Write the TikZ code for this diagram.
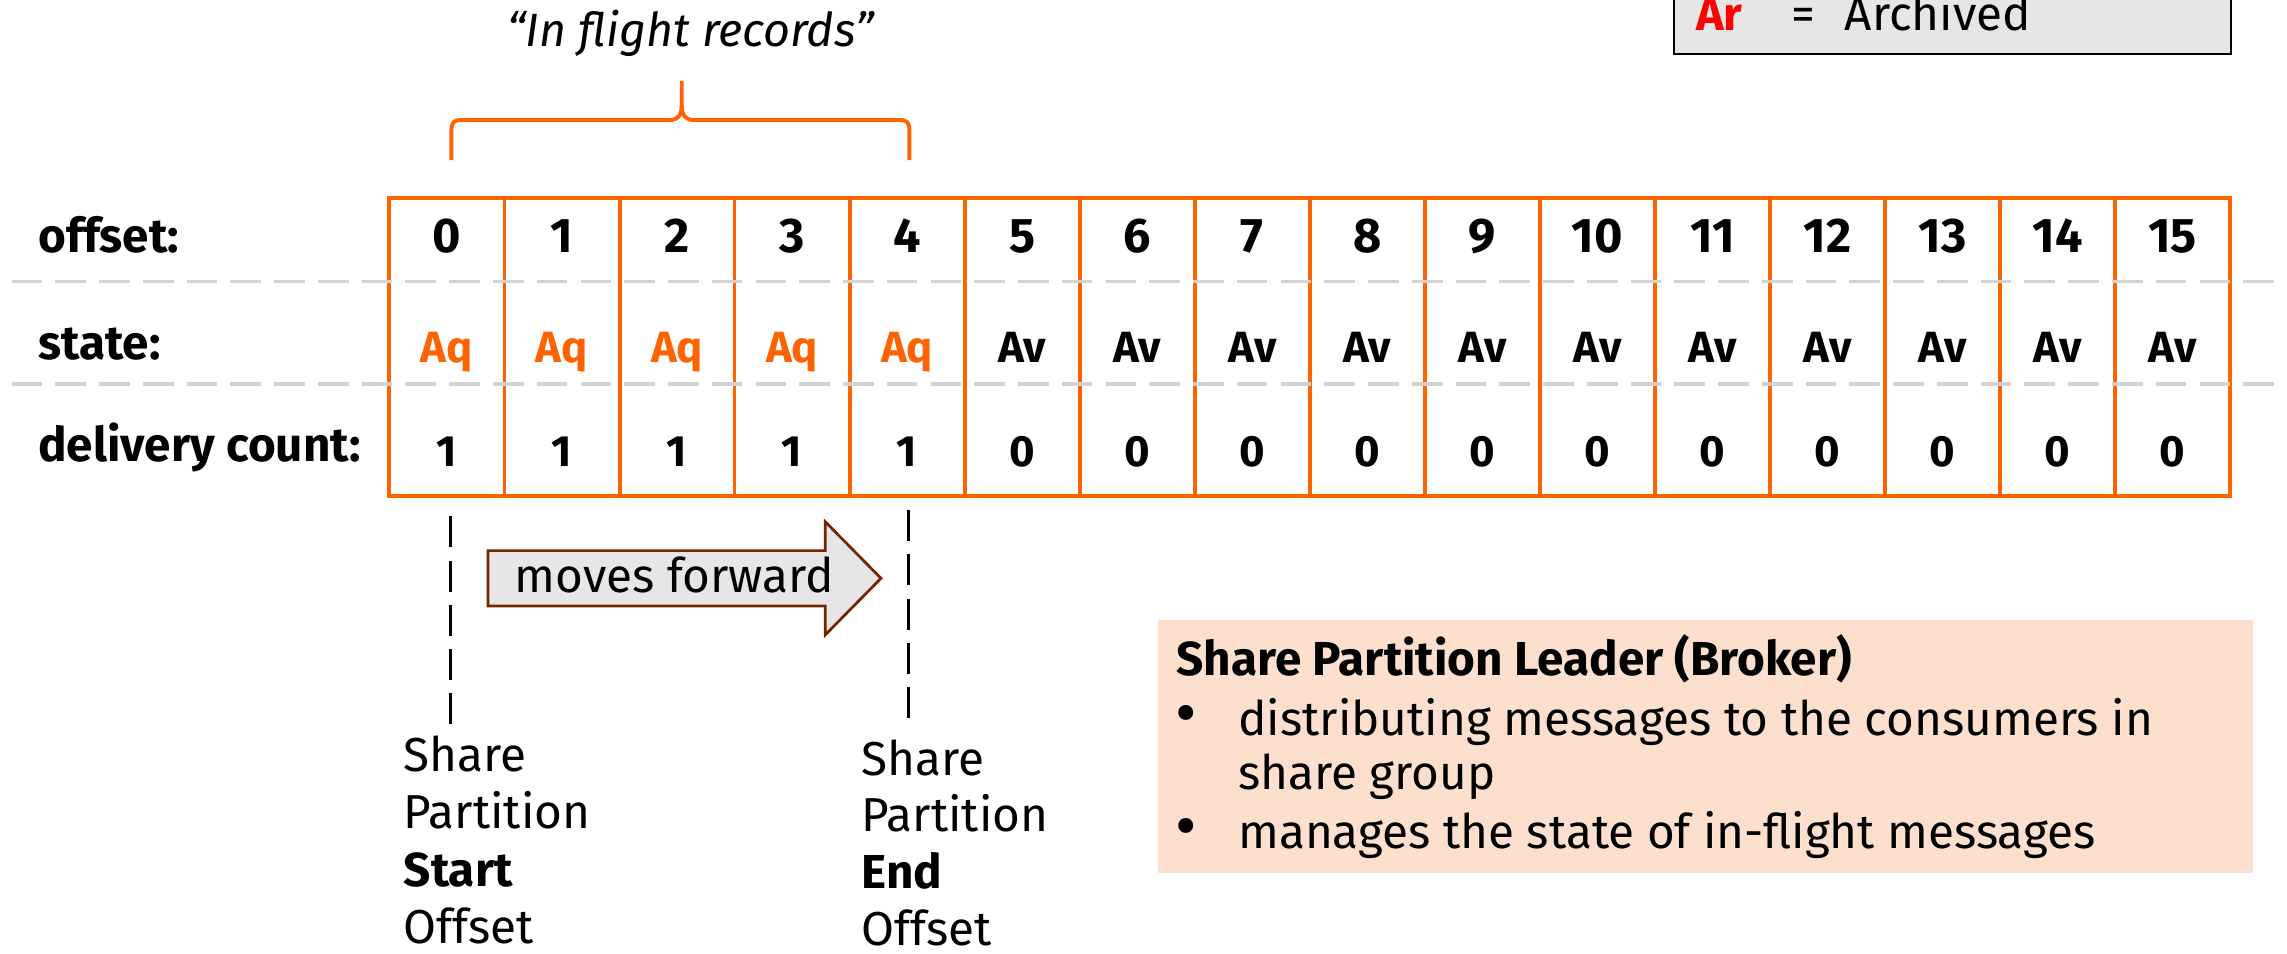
\documentclass[tikz,border=0pt]{standalone}
\usepackage{fontspec}
\setmainfont{Fira Sans}
\definecolor{ingorange}{RGB}{255,98,0}
\definecolor{dashgray}{RGB}{211,211,211}
\definecolor{legendgray}{RGB}{230,230,230}
\definecolor{arrowbrown}{RGB}{115,38,0}
\definecolor{leaderpeach}{RGB}{252,223,205}
\definecolor{archivedred}{RGB}{255,0,0}

\begin{document}
\begin{tikzpicture}[x=0.75pt,y=0.75pt,yscale=-1,xscale=1,
  cellnum/.style={anchor=base,inner sep=0.75pt,font=\bfseries\fontsize{25}{28}\selectfont},
  cellval/.style={anchor=base,inner sep=0.75pt,font=\bfseries\fontsize{22.5}{28}\selectfont},
  rowlabel/.style={anchor=base west,inner sep=0.75pt,font=\bfseries\fontsize{24.5}{28}\selectfont},
  bodytext/.style={anchor=base west,inner sep=0.75pt,font=\fontsize{24.5}{28}\selectfont},
  bulletmark/.style={anchor=base west,inner sep=0.75pt,font=\fontsize{34}{28}\selectfont},
  gridline/.style={draw=ingorange,line width=2pt},
  rowdash/.style={draw=dashgray,line width=2pt,dash pattern=on 15.75pt off 6.75pt},
  markdash/.style={draw=black,line width=1.6pt,dash pattern=on 16pt off 6.75pt}]
\useasboundingbox (0,0) rectangle (1568,654);

%Shape: Rectangle (legend)
\draw [fill=legendgray,line width=1pt] (1148,-40) rectangle (1529.5,37) ;
% Text Node
\draw (1161.7,21) node (legAr) [anchor=base west][inner sep=0.75pt] {\textcolor{archivedred}{\bfseries\fontsize{24}{28}\selectfont Ar}};
% Text Node
\draw (1227,21) node (legEq) [bodytext] {=};
% Text Node
\draw (1263.6,21) node (legArchived) [bodytext] {Archived};

%Shape: Brace
\draw [draw=ingorange,line width=2pt] (309.5,109.7) -- (309.5,90) .. controls (309.5,84) and (311,82.3) .. (316,82.3) -- (459,82.3) .. controls (465,82.3) and (467.4,79) .. (467.4,72) -- (467.4,55.5) ;
\draw [draw=ingorange,line width=2pt] (623.5,109.7) -- (623.5,90) .. controls (623.5,84) and (622,82.3) .. (617,82.3) -- (475.8,82.3) .. controls (469.8,82.3) and (467.4,79) .. (467.4,72) ;
% Text Node
\draw (473.4,32) node (inflight) [anchor=base][inner sep=0.75pt] {\fontsize{24}{28}\selectfont\itshape “In flight records”};

%Shape: Rectangle (log)
\draw [gridline] (267,135.5) rectangle (1529.2,340) ;
%Straight Lines
\draw [gridline] (345.9,135.5) -- (345.9,340) (424.8,135.5) -- (424.8,340) (503.6,135.5) -- (503.6,340) (582.5,135.5) -- (582.5,340) (661.4,135.5) -- (661.4,340) (740.3,135.5) -- (740.3,340) (819.1,135.5) -- (819.1,340) (898,135.5) -- (898,340) ;
\draw [gridline] (976.9,135.5) -- (976.9,340) (1055.8,135.5) -- (1055.8,340) (1134.6,135.5) -- (1134.6,340) (1213.5,135.5) -- (1213.5,340) (1292.4,135.5) -- (1292.4,340) (1371.3,135.5) -- (1371.3,340) (1450.1,135.5) -- (1450.1,340) ;
%Straight Lines
\draw [rowdash] (8,193) -- (1568,193) ;
\draw [rowdash] (8,263.5) -- (1568,263.5) ;

% Text Node
\draw (25,173) node (lblOffset) [rowlabel] {offset:};
\draw (25,246.5) node (lblState) [rowlabel] {state:};
\draw (25,316.5) node (lblCount) [rowlabel] {delivery count:};

% Text Node (offsets)
\draw (306.4,173) node (off0) [cellnum] {0};
\draw (385.3,173) node (off1) [cellnum] {1};
\draw (464.2,173) node (off2) [cellnum] {2};
\draw (543.1,173) node (off3) [cellnum] {3};
\draw (621.9,173) node (off4) [cellnum] {4};
\draw (700.8,173) node (off5) [cellnum] {5};
\draw (779.7,173) node (off6) [cellnum] {6};
\draw (858.6,173) node (off7) [cellnum] {7};
\draw (937.4,173) node (off8) [cellnum] {8};
\draw (1016.3,173) node (off9) [cellnum] {9};
\draw (1095.2,173) node (off10) [cellnum] {10};
\draw (1174.1,173) node (off11) [cellnum] {11};
\draw (1252.9,173) node (off12) [cellnum] {12};
\draw (1331.8,173) node (off13) [cellnum] {13};
\draw (1410.7,173) node (off14) [cellnum] {14};
\draw (1489.6,173) node (off15) [cellnum] {15};

% Text Node (states)
\draw (306.4,248.7) node (st0) [cellval] {\textcolor{ingorange}{Aq}};
\draw (385.3,248.7) node (st1) [cellval] {\textcolor{ingorange}{Aq}};
\draw (464.2,248.7) node (st2) [cellval] {\textcolor{ingorange}{Aq}};
\draw (543.1,248.7) node (st3) [cellval] {\textcolor{ingorange}{Aq}};
\draw (621.9,248.7) node (st4) [cellval] {\textcolor{ingorange}{Aq}};
\draw (700.8,248.7) node (st5) [cellval] {Av};
\draw (779.7,248.7) node (st6) [cellval] {Av};
\draw (858.6,248.7) node (st7) [cellval] {Av};
\draw (937.4,248.7) node (st8) [cellval] {Av};
\draw (1016.3,248.7) node (st9) [cellval] {Av};
\draw (1095.2,248.7) node (st10) [cellval] {Av};
\draw (1174.1,248.7) node (st11) [cellval] {Av};
\draw (1252.9,248.7) node (st12) [cellval] {Av};
\draw (1331.8,248.7) node (st13) [cellval] {Av};
\draw (1410.7,248.7) node (st14) [cellval] {Av};
\draw (1489.6,248.7) node (st15) [cellval] {Av};

% Text Node (delivery counts)
\draw (306.4,319.5) node (dc0) [cellval] {1};
\draw (385.3,319.5) node (dc1) [cellval] {1};
\draw (464.2,319.5) node (dc2) [cellval] {1};
\draw (543.1,319.5) node (dc3) [cellval] {1};
\draw (621.9,319.5) node (dc4) [cellval] {1};
\draw (700.8,319.5) node (dc5) [cellval] {0};
\draw (779.7,319.5) node (dc6) [cellval] {0};
\draw (858.6,319.5) node (dc7) [cellval] {0};
\draw (937.4,319.5) node (dc8) [cellval] {0};
\draw (1016.3,319.5) node (dc9) [cellval] {0};
\draw (1095.2,319.5) node (dc10) [cellval] {0};
\draw (1174.1,319.5) node (dc11) [cellval] {0};
\draw (1252.9,319.5) node (dc12) [cellval] {0};
\draw (1331.8,319.5) node (dc13) [cellval] {0};
\draw (1410.7,319.5) node (dc14) [cellval] {0};
\draw (1489.6,319.5) node (dc15) [cellval] {0};

%Straight Lines (start / end markers)
\coordinate (startTop) at (308.9,354) ;
\coordinate (startBot) at (308.9,497) ;
\coordinate (endTop) at (623,349.7) ;
\coordinate (endBot) at (623,492) ;
\draw [markdash] (startTop) -- (startBot) ;
\draw [markdash] (endTop) -- (endBot) ;

%Shape: Right Arrow
\draw [fill=legendgray,draw=arrowbrown,line width=1.4pt] (334.6,377.5) -- (565.8,377.5) -- (565.8,357.7) -- (604,396.5) -- (565.8,435.3) -- (565.8,415.5) -- (334.6,415.5) -- cycle ;
% Text Node
\draw (351.5,406.3) node (moves) [bodytext] {moves forward};

% Text Node (start offset)
\draw (275.6,529) node (startL1) [bodytext] {Share};
\draw (275.6,568.3) node (startL2) [bodytext] {Partition};
\draw (275.6,607.6) node (startL3) [bodytext] {\bfseries Start};
\draw (275.6,646.9) node (startL4) [bodytext] {Offset};
% Text Node (end offset)
\draw (589.6,531.4) node (endL1) [bodytext] {Share};
\draw (589.6,570.3) node (endL2) [bodytext] {Partition};
\draw (589.6,609.2) node (endL3) [bodytext] {\bfseries End};
\draw (589.6,648) node (endL4) [bodytext] {Offset};

%Shape: Rectangle (leader note)
\fill [leaderpeach] (793.7,425) rectangle (1545,598.3) ;
% Text Node
\draw (805.4,462.8) node (leaderTitle) [bodytext] {\bfseries Share Partition Leader (Broker)};
\draw (805,504) node (bulletA) [bulletmark] {•};
\draw (847.7,504) node (itemA1) [bodytext] {distributing messages to the consumers in};
\draw (847.7,541.6) node (itemA2) [bodytext] {share group};
\draw (805,581.6) node (bulletB) [bulletmark] {•};
\draw (847.7,581.6) node (itemB) [bodytext] {manages the state of in-flight messages};

\end{tikzpicture}
\end{document}
